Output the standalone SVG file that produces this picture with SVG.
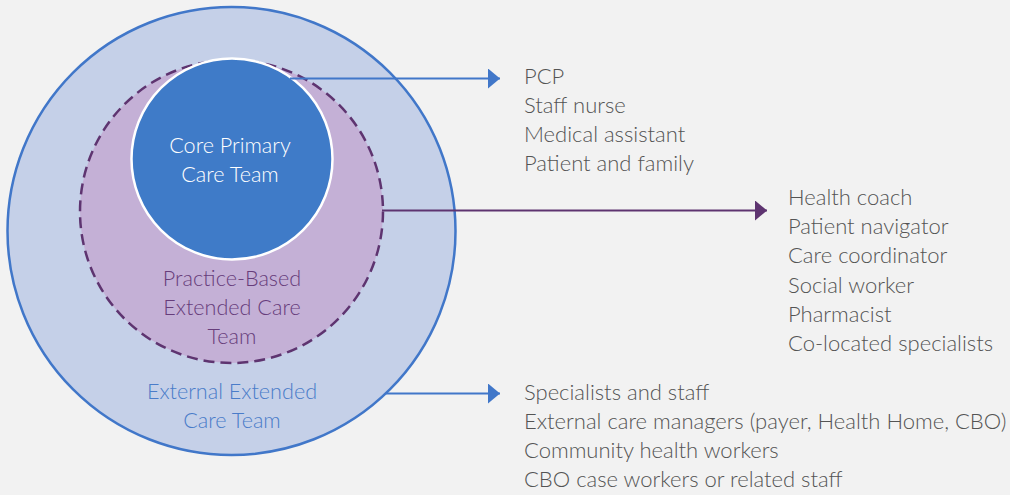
<svg xmlns="http://www.w3.org/2000/svg" width="1010" height="495" viewBox="0 0 1010 495">
<defs>
<style>
text{font-family:Lato,"Noto Sans","Liberation Sans",sans-serif;font-size:21.6px;font-weight:300}
.list text{fill:#545454;font-size:22px}
.c{text-anchor:middle}
</style>
<marker id="ab" viewBox="0 0 12 20" refX="12" refY="10" markerWidth="12" markerHeight="20" markerUnits="userSpaceOnUse" orient="auto"><path d="M0,0 L12,10 L0,20 Z" fill="#4177c9"/></marker>
<marker id="ap" viewBox="0 0 12 20" refX="12" refY="10" markerWidth="12" markerHeight="20" markerUnits="userSpaceOnUse" orient="auto"><path d="M0,0 L12,10 L0,20 Z" fill="#5e3470"/></marker>
</defs>
<rect width="1010" height="495" fill="#f2f2f2"/>
<g id="external">
<circle cx="231.5" cy="231" r="224" fill="#c5d0e8" stroke="#4177c9" stroke-width="2.5"/>
<text class="c" x="232" y="399" fill="#4a7cc9">External Extended</text>
<text class="c" x="232" y="428" fill="#4a7cc9">Care Team</text>
</g>
<g id="practice">
<circle cx="231.5" cy="211.5" r="151.5" fill="#c4b0d6" stroke="#5e3470" stroke-width="2.5" stroke-dasharray="11 6"/>
<text class="c" x="232" y="286" fill="#673d7b">Practice-Based</text>
<text class="c" x="232" y="315" fill="#673d7b">Extended Care</text>
<text class="c" x="232" y="344" fill="#673d7b">Team</text>
</g>
<g id="core">
<circle cx="232" cy="159" r="100.5" fill="#3f7bc8" stroke="#ffffff" stroke-width="2.5"/>
<text class="c" x="230" y="153" fill="#ffffff">Core Primary</text>
<text class="c" x="230" y="182" fill="#ffffff">Care Team</text>
</g>
<g id="connectors">
<line x1="290" y1="78.5" x2="500" y2="78.5" stroke="#4177c9" stroke-width="2" marker-end="url(#ab)"/>
<line x1="382" y1="210.5" x2="767" y2="210.5" stroke="#5e3470" stroke-width="2" marker-end="url(#ap)"/>
<line x1="386" y1="393.5" x2="500" y2="393.5" stroke="#4177c9" stroke-width="2" marker-end="url(#ab)"/>
</g>
<g id="list-core" class="list">
<text x="524" y="84">PCP</text>
<text x="524" y="113">Staff nurse</text>
<text x="524" y="142">Medical assistant</text>
<text x="524" y="171">Patient and family</text>
</g>
<g id="list-practice" class="list">
<text x="788" y="205">Health coach</text>
<text x="788" y="234">Patient navigator</text>
<text x="788" y="263">Care coordinator</text>
<text x="788" y="292.5">Social worker</text>
<text x="788" y="321.5">Pharmacist</text>
<text x="788" y="350.5">Co-located specialists</text>
</g>
<g id="list-external" class="list">
<text x="524" y="400">Specialists and staff</text>
<text x="524" y="429">External care managers (payer, Health Home, CBO)</text>
<text x="524" y="458">Community health workers</text>
<text x="524" y="486.5">CBO case workers or related staff</text>
</g>
</svg>
